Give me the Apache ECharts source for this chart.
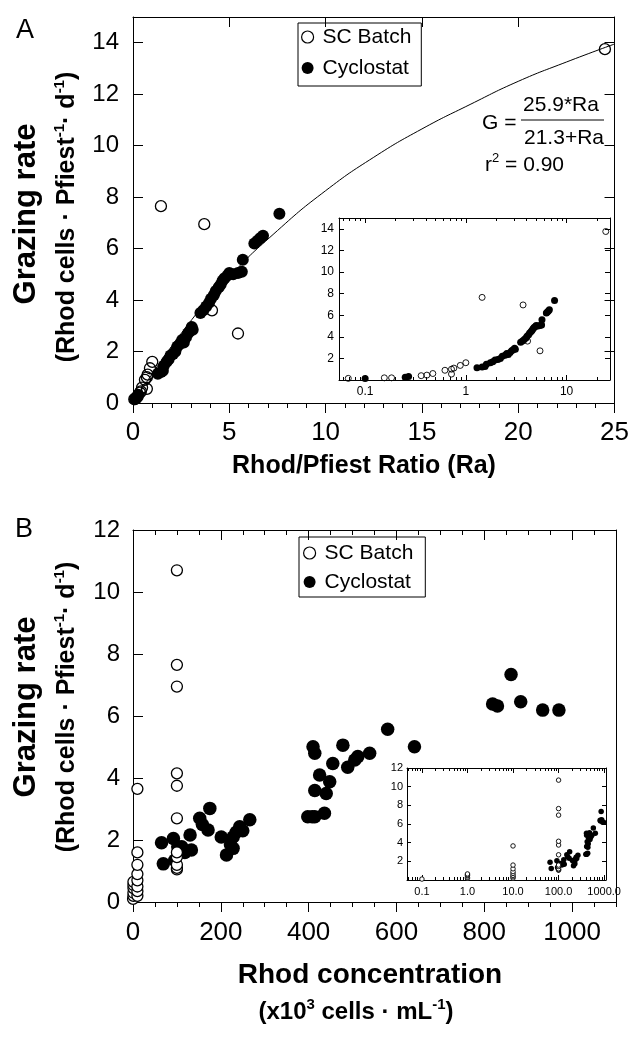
<!DOCTYPE html>
<html>
<head>
<meta charset="utf-8">
<script src="https://cdn.jsdelivr.net/npm/echarts@6/dist/echarts.min.js"></script>
<style>
  html, body { margin: 0; padding: 0; background: #fff; }
  #main { width: 632px; height: 1044px; }
</style>
</head>
<body>
<div id="main"></div>
<script>
// ---- panel A: grazing rate vs Rhod/Pfiest ratio (Ra) ----
var ratioBatch = [
  [0.068, 0.15], [0.155, 0.2], [0.183, 0.2], [0.36, 0.4], [0.41, 0.45], [0.47, 0.6],
  [0.62, 0.9], [0.72, 1.0], [0.72, 0.55], [0.76, 1.1], [0.88, 1.35], [1.0, 1.6],
  [1.45, 7.65], [3.7, 6.95], [4.1, 3.6], [5.45, 2.7], [24.5, 13.75]
];
var ratioCyclo = [
  [0.1, 0.15], [0.25, 0.25], [0.27, 0.32],
  [1.29, 1.14], [1.45, 1.2], [1.55, 1.25], [1.6, 1.45], [1.75, 1.6], [1.85, 1.7], [1.95, 1.85],
  [2.08, 1.9], [2.2, 2.0], [2.3, 2.2], [2.45, 2.3], [2.55, 2.45], [2.64, 2.35], [2.75, 2.55],
  [2.85, 2.7], [2.95, 2.8], [3.05, 2.95], [3.1, 2.85],
  [3.5, 3.5], [3.65, 3.6], [3.8, 3.75], [3.95, 3.9], [4.05, 4.05], [4.2, 4.2], [4.3, 4.35],
  [4.45, 4.5], [4.55, 4.6], [4.65, 4.75], [4.75, 4.85], [4.9, 4.95], [5.0, 5.05], [5.2, 5.0],
  [5.45, 5.05], [5.65, 5.1], [5.7, 5.57],
  [6.3, 6.2], [6.45, 6.3], [6.6, 6.4], [6.75, 6.5], [7.6, 7.35]
];
// fitted curve G = 25.9*Ra/(21.3+Ra)
var fitCurve = [
  [0, 0], [2.5, 2.7], [5, 4.9], [7.5, 6.7], [10, 8.25], [12.5, 9.55], [15, 10.65],
  [17.5, 11.6], [20, 12.5], [22.5, 13.25], [25, 13.95]
];

// ---- panel B: grazing rate vs Rhod concentration ----
var concBatch = [
  [0.1, 0.1], [1, 0.2], [1, 0.3], [1, 0.45], [1, 0.55], [1, 0.65],
  [10, 0.2], [10, 0.35], [10, 0.5], [10, 0.7], [10, 0.9], [10, 1.2], [10, 1.6], [10, 3.65],
  [100, 1.05], [100, 1.1], [100, 1.2], [100, 1.45], [100, 1.6], [100, 2.7], [100, 3.75],
  [100, 4.15], [100, 6.95], [100, 7.65], [100, 10.7]
];
var concCyclo = [
  [65, 1.91], [69, 1.23], [92, 2.05], [95, 1.35], [102, 1.78], [111, 1.78], [118, 1.6],
  [130, 2.16], [133, 1.68], [152, 2.7], [158, 2.5], [171, 2.32], [175, 3.02], [201, 2.1],
  [213, 1.52], [222, 1.85], [228, 1.73], [228, 2.1], [235, 2.25], [243, 2.43], [250, 2.3],
  [266, 2.65],
  [398, 2.75], [408, 2.75], [414, 2.75], [436, 2.86], [410, 5.01], [414, 4.8], [425, 4.1],
  [414, 3.6], [440, 3.5], [448, 3.88], [455, 4.47], [478, 5.06], [489, 4.35], [505, 4.58],
  [512, 4.69], [539, 4.8], [580, 5.57], [641, 5.01],
  [819, 6.39], [830, 6.32], [861, 7.34], [883, 6.46], [933, 6.19], [970, 6.19]
];

// ---- ticks / labels ----
var yTicksA = [0, 2, 4, 6, 8, 10, 12, 14];
var insetYTicksA = [2, 4, 6, 8, 10, 12, 14];
var logTicksA = [0.1, 1, 10];
var logLabelsA = ['0.1', '1', '10'];
var xTicksB = [0, 200, 400, 600, 800, 1000];
var yTicksB = [0, 2, 4, 6, 8, 10, 12];
var insetYTicksB = [2, 4, 6, 8, 10, 12];
var logTicksB = [0.1, 1, 10, 100, 1000];
var logLabelsB = ['0.1', '1.0', '10.0', '100.0', '1000.0'];

var FONT = '"Liberation Sans", Arial, Helvetica, sans-serif';

var rangeA = { min: 0, max: 25, interval: 5 };
var rangeYA = { min: 0, max: 15, interval: 1 };
var logRangeA = { min: 0.055, max: 27, log: true };
var rangeB = { min: 0, max: 1100, interval: 50 };
var rangeYB = { min: 0, max: 12, interval: 2 };
var logRangeB = { min: 0.047, max: 1100, log: true };

function logFormatter(ticks, labels) {
  return function (v) {
    for (var i = 0; i < ticks.length; i++) {
      if (Math.abs(v - ticks[i]) / ticks[i] < 1e-6) return labels[i];
    }
    return '';
  };
}
function plain(v) { return String(v); }

function lbl(size, margin, values, fmt) {
  var o = { show: true, fontFamily: FONT, fontSize: size, color: '#000', margin: margin, formatter: fmt || plain };
  if (values) o.customValues = values;
  return o;
}
function tk(len, inside, values) {
  var o = { show: true, inside: inside, length: len, lineStyle: { color: '#000', width: 1 } };
  if (values) o.customValues = values;
  return o;
}
function minor(len, split) {
  return { show: true, splitNumber: split, length: len, lineStyle: { color: '#000', width: 1 } };
}
function axis(grid, pos, range, extra) {
  var a = {
    type: range.log ? 'log' : 'value',
    gridIndex: grid,
    position: pos,
    min: range.min,
    max: range.max,
    axisLine: { show: true, onZero: false, lineStyle: { color: '#000', width: 1 } },
    axisTick: { show: false },
    axisLabel: { show: false },
    splitLine: { show: false }
  };
  if (range.log) a.logBase = 10;
  if (range.interval) a.interval = range.interval;
  return Object.assign(a, extra || {});
}
var noLine = { show: false, onZero: false };

var xAxes = [
  // 0-1: panel A main
  axis(0, 'bottom', rangeA, { axisTick: tk(10, false), minorTick: minor(5, 5), axisLabel: lbl(26, 17) }),
  axis(0, 'top', rangeA, { axisTick: tk(10, true) }),
  // 2-3: panel A inset (log)
  axis(1, 'bottom', logRangeA, {
    axisTick: tk(5, true),
    minorTick: minor(3, 9),
    axisLabel: Object.assign(lbl(12, 6, null, logFormatter(logTicksA, logLabelsA)),
      { showMinLabel: false, showMaxLabel: false })
  }),
  axis(1, 'top', logRangeA, { axisTick: tk(5, true), minorTick: minor(3, 9) }),
  // 4-7: panel B main (minor every 50, major every 200)
  axis(2, 'bottom', rangeB, { axisTick: tk(5, false), axisLabel: lbl(26, 18, xTicksB) }),
  axis(2, 'bottom', rangeB, { axisLine: noLine, axisTick: tk(10, false, xTicksB) }),
  axis(2, 'top', rangeB, { axisTick: tk(5, true) }),
  axis(2, 'top', rangeB, { axisLine: noLine, axisTick: tk(10, true, xTicksB) }),
  // 8-9: panel B inset (log)
  axis(3, 'bottom', logRangeB, {
    axisTick: tk(5, true),
    minorTick: minor(3, 9),
    axisLabel: Object.assign(lbl(11, 6, null, logFormatter(logTicksB, logLabelsB)),
      { showMinLabel: false, showMaxLabel: false })
  }),
  axis(3, 'top', logRangeB, { axisTick: tk(5, true), minorTick: minor(3, 9) })
];

var yAxes = [
  axis(0, 'left', rangeYA, { axisTick: tk(10, true, yTicksA), axisLabel: lbl(24, 14, yTicksA) }),
  axis(0, 'right', rangeYA, { axisTick: tk(10, true, insetYTicksA) }),
  axis(1, 'left', rangeYA, { axisTick: tk(5, true, insetYTicksA), axisLabel: lbl(12, 5, insetYTicksA) }),
  axis(1, 'right', rangeYA, { axisTick: tk(5, true, insetYTicksA) }),
  axis(2, 'left', rangeYB, { axisTick: tk(10, true, yTicksB), axisLabel: lbl(24, 13, yTicksB) }),
  axis(2, 'right', rangeYB, {}),
  axis(3, 'left', rangeYB, { axisTick: tk(4, true, insetYTicksB), axisLabel: lbl(11, 4, insetYTicksB) }),
  axis(3, 'right', rangeYB, { axisTick: tk(4, true, insetYTicksB) })
];

function scatter(name, data, xi, yi, size, open, fill, z) {
  return {
    type: 'scatter',
    name: name,
    data: data,
    xAxisIndex: xi,
    yAxisIndex: yi,
    symbol: 'circle',
    symbolSize: size,
    z: z,
    itemStyle: open
      ? { color: fill, borderColor: '#000', borderWidth: size > 8 ? 1.3 : 0.9, opacity: 1 }
      : { color: '#000', borderWidth: 0, opacity: 1 }
  };
}

function legendBox(left, top, pad, gap) {
  return {
    orient: 'vertical',
    left: left,
    top: top,
    padding: pad,
    itemGap: gap,
    itemWidth: 20,
    itemHeight: 12,
    borderColor: '#000',
    borderWidth: 1,
    selectedMode: false,
    textStyle: { fontFamily: FONT, fontSize: 21, color: '#000', lineHeight: 24 },
    data: [
      { name: 'SC Batch', icon: 'circle', itemStyle: { color: '#fff', borderColor: '#000', borderWidth: 1.2, opacity: 1 } },
      { name: 'Cyclostat', icon: 'circle', itemStyle: { color: '#000', borderWidth: 0, opacity: 1 } }
    ]
  };
}

function gtext(x, y, text, rich, rot, size, weight, align) {
  return {
    type: 'text',
    x: x,
    y: y,
    rotation: rot || 0,
    silent: true,
    style: {
      text: text,
      rich: rich,
      fontFamily: FONT,
      fontSize: size || 21,
      fontWeight: weight || 'normal',
      fill: '#000',
      align: align || 'center',
      verticalAlign: 'middle'
    }
  };
}

var titleRich = {
  a: { fontFamily: FONT, fontSize: 31, fontWeight: 'bold', fill: '#000', lineHeight: 36 },
  b: { fontFamily: FONT, fontSize: 25, fontWeight: 'bold', fill: '#000', lineHeight: 30 },
  c: { fontFamily: FONT, fontSize: 24, fontWeight: 'bold', fill: '#000', lineHeight: 30 },
  s: { fontFamily: FONT, fontSize: 15, fontWeight: 'bold', fill: '#000', lineHeight: 14, verticalAlign: 'top' },
  t: { fontFamily: FONT, fontSize: 21, fill: '#000', lineHeight: 26 },
  u: { fontFamily: FONT, fontSize: 13, fill: '#000', lineHeight: 12, verticalAlign: 'top' }
};
var yTitle2 = '{b|(Rhod cells · Pfiest}{s|-1}{b|· d}{s|-1}{b|)}';

var myChart = echarts.init(document.getElementById('main'), null, { renderer: 'canvas' });

var option = {
  animation: false,
  backgroundColor: '#fff',
  grid: [
    { left: 133, top: 17, width: 483, height: 386 },
    { left: 339, top: 218, width: 271, height: 162 },
    { left: 133, top: 530, width: 483, height: 372 },
    { left: 407, top: 768, width: 199, height: 112 }
  ],
  xAxis: xAxes,
  yAxis: yAxes,
  legend: [
    legendBox(298, 23, [2, 10, 6, 3], 7),
    legendBox(299, 537, [4, 12, 3, 4], 5)
  ],
  graphic: [
    gtext(25, 31, 'A', null, 0, 27),
    gtext(24, 530, 'B', null, 0, 27),
    gtext(26, 214, '{a|Grazing rate}', titleRich, Math.PI / 2),
    gtext(67, 217, yTitle2, titleRich, Math.PI / 2),
    gtext(26, 707, '{a|Grazing rate}', titleRich, Math.PI / 2),
    gtext(67, 707, yTitle2, titleRich, Math.PI / 2),
    gtext(364, 466, 'Rhod/Pfiest Ratio (Ra)', null, 0, 25, 'bold'),
    gtext(370, 975, 'Rhod concentration', null, 0, 28, 'bold'),
    gtext(356, 1012, '{c|(x10}{s|3}{c| cells · mL}{s|-1}{c|)}', titleRich, 0),
    // fitted equation
    gtext(482, 123, 'G =', null, 0, 21, 'normal', 'left'),
    gtext(561, 105, '25.9*Ra', null, 0, 21),
    {
      type: 'line', silent: true,
      shape: { x1: 521, y1: 120, x2: 604, y2: 120 },
      style: { stroke: '#000', lineWidth: 1 }
    },
    gtext(564, 138, '21.3+Ra', null, 0, 21),
    gtext(485, 165, '{t|r}{u|2}{t| = 0.90}', titleRich, 0, 21, 'normal', 'left')
  ],
  series: [
    {
      type: 'line',
      name: 'fit',
      data: fitCurve,
      xAxisIndex: 0,
      yAxisIndex: 0,
      smooth: true,
      showSymbol: false,
      z: 1,
      lineStyle: { color: '#000', width: 1 }
    },
    scatter('SC Batch', ratioBatch, 0, 0, 11, true, 'rgba(0,0,0,0)', 2),
    scatter('Cyclostat', ratioCyclo, 0, 0, 12, false, '#000', 3),
    scatter('SC Batch', ratioBatch, 2, 2, 6, true, 'rgba(0,0,0,0)', 2),
    scatter('Cyclostat', ratioCyclo, 2, 2, 7, false, '#000', 3),
    scatter('Cyclostat', concCyclo, 4, 4, 13.5, false, '#000', 2),
    scatter('SC Batch', concBatch, 4, 4, 11, true, '#fff', 3),
    scatter('Cyclostat', concCyclo, 8, 6, 5.5, false, '#000', 2),
    scatter('SC Batch', concBatch, 8, 6, 4.5, true, '#fff', 3)
  ]
};

myChart.setOption(option);
</script>
</body>
</html>
